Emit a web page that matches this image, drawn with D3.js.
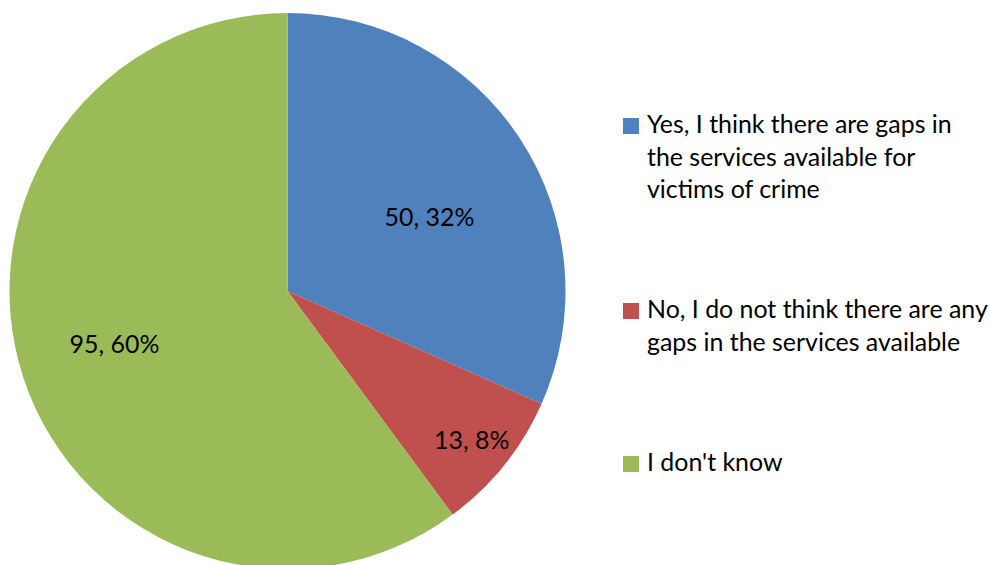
<!DOCTYPE html>
<html>
<head>
<meta charset="utf-8">
<script src="https://cdn.jsdelivr.net/npm/d3@7"></script>
<style>
html,body{margin:0;padding:0;background:#fff;}
svg{display:block;}
text{font-family:Lato,"Open Sans",sans-serif;fill:#000;}
</style>
</head>
<body>
<svg id="chart" width="990" height="565"></svg>
<script>
const categories = [
  "Yes, I think there are gaps in the services available for victims of crime",
  "No, I do not think there are any gaps in the services available",
  "I don't know"
];
const legendLines = [
  ["Yes, I think there are gaps in", "the services available for", "victims of crime"],
  ["No, I do not think there are any", "gaps in the services available"],
  ["I don't know"]
];
const values = [50, 13, 95];
const percents = ["32%", "8%", "60%"];
const colors = ["#4F81BD", "#C0504D", "#9BBB59"];

const svg = d3.select("#chart");
const cx = 287.5, cy = 291, R = 278;

// choose font size so that the first legend line is ~305px wide
const probe = svg.append("text").attr("font-size", 24).text(legendLines[0][0]);
const w24 = probe.node().getComputedTextLength();
probe.remove();
const fs = 24 * 305 / w24;

const pie = d3.pie().sort(null).value(d => d);
const arcs = pie(values);
const arc = d3.arc().innerRadius(0).outerRadius(R);

const g = svg.append("g").attr("transform", `translate(${cx},${cy})`);
g.selectAll("path").data(arcs).enter().append("path")
  .attr("d", arc).attr("fill", (d, i) => colors[i]);

// label placement (angle shift in degrees from slice middle, radius fraction)
const labelPlace = [[5.5, 0.576], [0.3, 0.853], [1.2, 0.651]];
g.selectAll("text.lbl").data(arcs).enter().append("text")
  .attr("class", "lbl")
  .attr("font-size", fs)
  .attr("text-anchor", "middle")
  .attr("dominant-baseline", "central")
  .attr("transform", (d, i) => {
    const a = (d.startAngle + d.endAngle) / 2 + labelPlace[i][0] * Math.PI / 180;
    const r = R * labelPlace[i][1];
    return `translate(${r * Math.sin(a)},${-r * Math.cos(a) - 1})`;
  })
  .text((d, i) => `${values[i]}, ${percents[i]}`);

// legend
const legendTop = [133, 318, 471];
const lineH = 32.5;
const lg = svg.append("g");
legendLines.forEach((lines, i) => {
  lg.append("rect").attr("x", 623).attr("y", legendTop[i] - 15)
    .attr("width", 16).attr("height", 16).attr("fill", colors[i]);
  const t = lg.append("text").attr("x", 647).attr("y", legendTop[i]).attr("font-size", fs);
  lines.forEach((l, j) => {
    t.append("tspan").attr("x", 647).attr("y", legendTop[i] + j * lineH).text(l);
  });
});
</script>
</body>
</html>
